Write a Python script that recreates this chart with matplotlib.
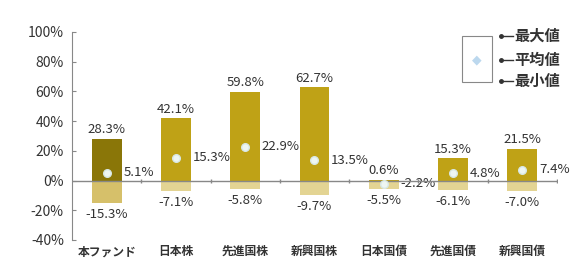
import matplotlib
matplotlib.use("Agg")
import matplotlib.pyplot as plt
from matplotlib.patches import Rectangle

plt.rcParams['font.family'] = ['Noto Sans CJK JP', 'DejaVu Sans']

categories = ['本ファンド', '日本株', '先進国株', '新興国株', '日本国債', '先進国債', '新興国債']
max_vals = [28.3, 42.1, 59.8, 62.7, 0.6, 15.3, 21.5]
mean_vals = [5.1, 15.3, 22.9, 13.5, -2.2, 4.8, 7.4]
min_vals = [-15.3, -7.1, -5.8, -9.7, -5.5, -6.1, -7.0]
yticks = [-40, -20, 0, 20, 40, 60, 80, 100]

fig = plt.figure(figsize=(5.77, 2.62), dpi=100)
ax = fig.add_axes([0.125, 0.084, 0.84, 0.794])

x = list(range(len(categories)))
pos_colors = ['#8A7608'] + ['#BFA216'] * (len(categories) - 1)
neg_colors = ['#D6C06A'] + ['#E3D493'] * (len(categories) - 1)
w = 0.43
ax.bar(x, max_vals, width=w, color=pos_colors, zorder=2)
ax.bar(x, min_vals, width=w, color=neg_colors, zorder=2)
ax.scatter(x, mean_vals, s=30, marker='o', color='#EEF6F2', edgecolors='#D8E8E6', zorder=4)

tc = '#333333'
fs = 9.5
for i in x:
    ax.text(i, max_vals[i] + 1.5, f'{max_vals[i]:.1f}%', ha='center', va='bottom', fontsize=fs, color=tc)
    ax.text(i, min_vals[i] - 3.5, f'{min_vals[i]:.1f}%', ha='center', va='top', fontsize=fs, color=tc)
    ax.text(i + 0.24, mean_vals[i], f'{mean_vals[i]:.1f}%', ha='left', va='center', fontsize=fs, color=tc)

ax.axhline(0, color='#888888', lw=1.0, zorder=3)
bounds = [i + 0.5 for i in x]
ax.plot(bounds, [0] * len(bounds), linestyle='none', marker='|', markersize=3,
        color='#888888', zorder=3)
ax.set_ylim(-40, 100)
ax.set_xlim(-0.5, len(categories) - 0.5)
ax.set_yticks(yticks)
ax.set_yticklabels([f'{v}%' for v in yticks], fontsize=10, color=tc)
ax.set_xticks([])
for s in ['top', 'right', 'bottom']:
    ax.spines[s].set_visible(False)
ax.spines['left'].set_color('#888888')
ax.tick_params(axis='y', direction='in', length=3, color='#888888', pad=6)

for i, c in enumerate(categories):
    ax.text(i, -43.5, c, ha='center', va='top', fontsize=8.5, color=tc, fontweight='bold')

# legend
lx0, ly0 = 462 / 577, 1 - 82 / 262
lbox = Rectangle((lx0, ly0), 30 / 577, 46 / 262, transform=fig.transFigure,
                 facecolor='white', edgecolor='#888888', lw=0.8)
fig.patches.append(lbox)
fig.text(477 / 577, 1 - 60 / 262, '◆', ha='center', va='center', fontsize=9,
         color='#BCD8EE', family=['DejaVu Sans'])
for yy, lab in [(36, '最大値'), (60, '平均値'), (81, '最小値')]:
    fig.text(514 / 577, 1 - yy / 262, lab, ha='left', va='center', fontsize=11,
             color=tc, fontweight='bold')
    fig.lines.append(plt.Line2D([500 / 577, 513 / 577], [1 - yy / 262] * 2,
                                transform=fig.transFigure, color=tc, lw=1.0))
    fig.lines.append(plt.Line2D([501 / 577], [1 - yy / 262], marker='o', markersize=2.5,
                                transform=fig.transFigure, color=tc))

fig.savefig('out.png', dpi=100)
